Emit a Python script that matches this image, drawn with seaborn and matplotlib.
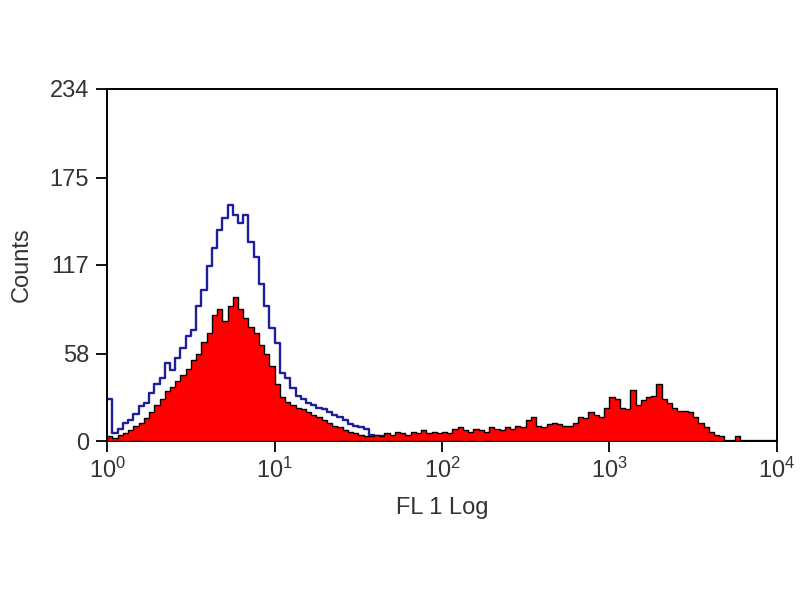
import numpy as np
import pandas as pd
import matplotlib
matplotlib.use("Agg")
import matplotlib.pyplot as plt
import seaborn as sns

# ===== Data (counts per channel, 32 channels per decade, 10^0 .. 10^4) =====
stained_counts = [
    3, 2, 4, 5, 7, 10, 12, 15, 19, 24, 28, 33, 36, 40, 44, 48,
    54, 58, 66, 72, 84, 88, 80, 90, 96, 88, 82, 76, 72, 64, 58, 50,
    38, 29, 26, 24, 22, 21, 19, 17, 16, 14, 12, 10, 9, 7, 6, 5,
    4, 3, 3, 4, 3, 5, 4, 6, 5, 4, 6, 5, 7, 5, 6, 5,
    6, 5, 8, 9, 7, 6, 8, 7, 6, 9, 8, 7, 9, 8, 10, 9,
    14, 16, 10, 9, 11, 12, 11, 10, 10, 12, 16, 15, 19, 17, 16, 22,
    29, 28, 22, 21, 34, 24, 27, 29, 30, 38, 28, 25, 22, 20, 20, 19,
    16, 12, 9, 6, 4, 3, 0, 0, 3, 0, 0, 0, 0, 0, 0, 0,
]
control_counts = [
    28, 5, 8, 12, 14, 18, 23, 25, 32, 38, 42, 52, 47, 55, 62, 70,
    74, 90, 100, 116, 128, 140, 148, 157, 150, 145, 150, 132, 122, 104, 90, 75,
    65, 45, 42, 35, 30, 28, 25, 24, 22, 21, 19, 17, 16, 14, 11, 10,
    9, 8, 4, 3, 3, 3, 2, 3, 2, 2, 3, 2, 2, 1, 2, 1,
    1, 1, 0, 1, 1, 0, 1, 0, 1, 1, 0, 0, 1, 0, 0, 1,
    0, 0, 1, 0, 0, 0, 1, 0, 0, 0, 0, 1, 0, 0, 0, 0,
    0, 0, 0, 0, 0, 0, 0, 0, 0, 0, 0, 0, 0, 0, 0, 0,
    0, 0, 0, 0, 0, 0, 0, 0, 0, 0, 0, 0, 0, 0, 0, 0,
]
decades = [0, 1, 2, 3, 4]
y_ticks = [0, 58, 117, 175, 234]

n_bins = len(stained_counts)
edges = np.linspace(0, 4, n_bins + 1)
centers = (edges[:-1] + edges[1:]) / 2
df = pd.DataFrame({"log_fl1": centers,
                   "stained": stained_counts,
                   "control": control_counts})

# ===== Style =====
sns.set_style("white")
plt.rcParams["font.family"] = ["Liberation Sans", "DejaVu Sans"]
plt.rcParams["mathtext.fontset"] = "custom"
plt.rcParams["mathtext.rm"] = "Liberation Sans"
plt.rcParams["mathtext.it"] = "Liberation Sans"

fig = plt.figure(figsize=(8, 6), dpi=100)
ax = fig.add_axes([0.134, 0.265, 0.837, 0.587])

# ===== Histograms =====
sns.histplot(data=df, x="log_fl1", weights="control", bins=n_bins,
             binrange=(0, 4), element="step", fill=False, color="#1f1f9a",
             linewidth=1.7, ax=ax, zorder=2)
sns.histplot(data=df, x="log_fl1", weights="stained", bins=n_bins,
             binrange=(0, 4), element="step", fill=True, color="#ff0000",
             alpha=1.0, edgecolor="black", linewidth=1.0, ax=ax, zorder=3)

# ===== Axes =====
ax.set_xlim(0, 4)
ax.set_ylim(0, 234)
ax.set_xticks(decades)
ax.set_xticklabels([f"$10^{{{d}}}$" for d in decades])
ax.set_yticks(y_ticks)
ax.tick_params(axis="both", direction="out", length=8, width=1.3,
               labelsize=17, color="black", labelcolor="#333333",
               bottom=True, left=True, top=False, right=False)
ax.tick_params(axis="x", pad=4)
ax.tick_params(axis="y", pad=5)
for s in ax.spines.values():
    s.set_color("black")
    s.set_linewidth(1.4)
ax.set_xlabel("FL 1 Log", fontsize=17, color="#333333", labelpad=10)
ax.set_ylabel("Counts", fontsize=17, color="#333333", labelpad=12)

fig.savefig("out.png", dpi=100, facecolor="white")
